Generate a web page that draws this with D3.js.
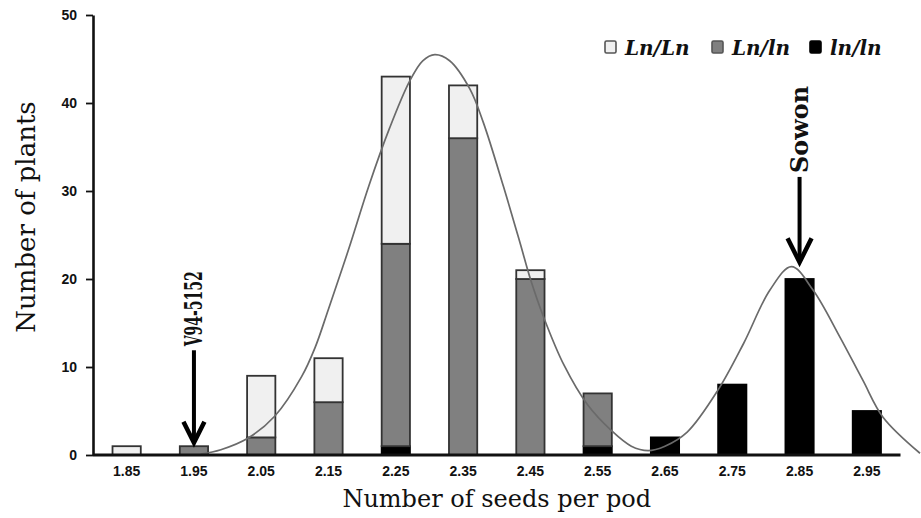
<!DOCTYPE html>
<html>
<head>
<meta charset="utf-8">
<script src="https://cdn.jsdelivr.net/npm/d3@7"></script>
<style>
  body { margin: 0; background: #fff; }
  svg { display: block; }
</style>
</head>
<body>
<div id="chart"></div>
<script>
// categories (seeds per pod)
const categories = ["1.85", "1.95", "2.05", "2.15", "2.25", "2.35", "2.45", "2.55", "2.65", "2.75", "2.85", "2.95"];

// genotype counts per class
const lnln = [0, 0, 0, 0, 1, 0, 0, 1, 2, 8, 20, 5];      // ln/ln (black)
const Lnln = [0, 1, 2, 6, 23, 36, 20, 6, 0, 0, 0, 0];    // Ln/ln (gray)
const LnLn = [1, 0, 7, 5, 19, 6, 1, 0, 0, 0, 0, 0];      // Ln/Ln (white)

// fitted curve
const curveX = [1.96, 1.99, 2.03, 2.07, 2.11, 2.13, 2.15, 2.18, 2.21, 2.24, 2.27, 2.29, 2.308,
  2.33, 2.36, 2.38, 2.41, 2.435, 2.45, 2.47, 2.50, 2.535, 2.57, 2.60, 2.625, 2.65, 2.683,
  2.729, 2.767, 2.806, 2.838, 2.870, 2.910, 2.944, 2.974, 3.029];
const curveY = [0.1, 0.6, 1.9, 4.4, 8.9, 12.2, 16.6, 23.4, 30.6, 37.0, 42.4, 44.8, 45.5,
  44.8, 41.6, 37.8, 30.5, 24.0, 20.0, 15.6, 10.2, 5.7, 2.8, 1.0, 0.5, 1.0, 2.6,
  7.4, 12.7, 18.75, 21.4, 18.75, 13.4, 8.5, 4.3, 0.2];

const yTicks = [0, 10, 20, 30, 40, 50];

const w = 921;
const h = 518;
const mLeft = 93, mRight = 900.5, mTop = 15, mBottom = 455;

const svg = d3.select("#chart")
  .append("svg")
  .attr("width", w)
  .attr("height", h);

svg.append("rect").attr("width", w).attr("height", h).attr("fill", "#fff");

// scales
const x = d3.scaleBand()
  .domain(categories)
  .range([mLeft, mRight])
  .paddingInner(0.58)
  .paddingOuter(0.29);

const y = d3.scaleLinear()
  .domain([0, 50])
  .range([mBottom, mTop]);

// continuous x for the curve, lined up with band centres
const xc = d3.scaleLinear()
  .domain([+categories[0], +categories[categories.length - 1]])
  .range([x(categories[0]) + x.bandwidth() / 2, x(categories[categories.length - 1]) + x.bandwidth() / 2]);

// stack the genotypes
const table = categories.map((c, i) => ({ cat: c, lnln: lnln[i], Lnln: Lnln[i], LnLn: LnLn[i] }));
const keys = ["lnln", "Lnln", "LnLn"];
const fills = { lnln: "#000", Lnln: "#808080", LnLn: "#f0f0f0" };
const stacked = d3.stack().keys(keys)(table);

svg.append("g")
  .selectAll("g")
  .data(stacked)
  .enter()
  .append("g")
  .attr("fill", (d) => fills[d.key])
  .attr("stroke", (d) => d.key === "lnln" ? "#000" : "#333")
  .attr("stroke-width", 1.8)
  .selectAll("rect")
  .data((d) => d.filter((s) => s[1] - s[0] > 0))
  .enter()
  .append("rect")
  .attr("x", (d) => x(d.data.cat))
  .attr("width", x.bandwidth())
  .attr("y", (d) => y(d[1]))
  .attr("height", (d) => y(d[0]) - y(d[1]));

// fitted curve
const curvePts = curveX.map((v, i) => [v, curveY[i]]);
svg.append("path")
  .datum(curvePts)
  .attr("fill", "none")
  .attr("stroke", "#6a6a6a")
  .attr("stroke-width", 1.7)
  .attr("d", d3.line()
    .x((d) => xc(d[0]))
    .y((d) => y(d[1]))
    .curve(d3.curveCatmullRom.alpha(0.5)));

const tickFont = "'Liberation Sans', Arial, sans-serif";

// x axis
const xAxis = d3.axisBottom(x).tickSize(0).tickPadding(11);
const gx = svg.append("g")
  .attr("transform", "translate(0," + mBottom + ")")
  .call(xAxis);
gx.select(".domain").remove();
gx.append("line")
  .attr("x1", mLeft).attr("x2", mRight)
  .attr("stroke", "#111").attr("stroke-width", 3);
gx.selectAll("text")
  .attr("fill", "#111")
  .style("font-family", tickFont)
  .style("font-weight", "bold")
  .style("font-size", "14px");

// y axis
const yAxis = d3.axisLeft(y).tickValues(yTicks).tickSize(7).tickSizeOuter(0).tickPadding(9);
const gy = svg.append("g")
  .attr("transform", "translate(" + mLeft + ",0)")
  .call(yAxis);
gy.select(".domain").attr("stroke", "#111").attr("stroke-width", 2.6);
gy.selectAll(".tick line").attr("stroke", "#111").attr("stroke-width", 1.8);
gy.selectAll("text")
  .attr("fill", "#111")
  .style("font-family", tickFont)
  .style("font-weight", "bold")
  .style("font-size", "14px");

// axis titles
svg.append("text")
  .attr("transform", "translate(35,217) rotate(-90)")
  .attr("text-anchor", "middle")
  .style("font-family", "'DejaVu Serif', serif")
  .style("font-size", "26px")
  .attr("fill", "#111")
  .text("Number of plants");

svg.append("text")
  .attr("x", (mLeft + mRight) / 2)
  .attr("y", 507)
  .attr("text-anchor", "middle")
  .style("font-family", "'DejaVu Serif', serif")
  .style("font-size", "24px")
  .attr("fill", "#111")
  .text("Number of seeds per pod");

// arrows for the parents
function arrow(cat, yFrom, yTo, label, textLen, fontSize, size) {
  const cx = x(cat) + x.bandwidth() / 2;
  const g = svg.append("g");
  g.append("line")
    .attr("x1", cx).attr("x2", cx)
    .attr("y1", y(yFrom)).attr("y2", y(yTo) - 2)
    .attr("stroke", "#000").attr("stroke-width", 4);
  g.append("path")
    .attr("d", "M" + (cx - size / 2) + "," + (y(yTo) - size) + "L" + cx + "," + y(yTo) + "L" + (cx + size / 2) + "," + (y(yTo) - size))
    .attr("fill", "none")
    .attr("stroke", "#000")
    .attr("stroke-width", 4.5)
    .attr("stroke-linejoin", "miter");
  g.append("text")
    .attr("transform", "translate(" + (cx + 8) + "," + (y(yFrom) - 4) + ") rotate(-90)")
    .attr("text-anchor", "start")
    .attr("textLength", textLen)
    .attr("lengthAdjust", "spacingAndGlyphs")
    .style("font-family", "'DejaVu Serif', serif")
    .style("font-weight", "bold")
    .style("font-size", fontSize + "px")
    .attr("fill", "#111")
    .text(label);
}
arrow("1.95", 11.9, 1.4, "V94-5152", 75, 24, 21);
arrow("2.85", 31.6, 21.9, "Sowon", 87, 25, 24);

// legend
const legendLabels = ["Ln/Ln", "Ln/ln", "ln/ln"];
const legendKeys = ["LnLn", "Lnln", "lnln"];
const legendX = [605, 712, 810];
const lg = svg.append("g");
legendKeys.forEach((k, i) => {
  lg.append("rect")
    .attr("x", legendX[i]).attr("y", 41)
    .attr("width", 11).attr("height", 12)
    .attr("rx", 1.5)
    .attr("fill", fills[k])
    .attr("stroke", k === "lnln" ? "#000" : "#555")
    .attr("stroke-width", 1.6);
  lg.append("text")
    .attr("x", legendX[i] + 20)
    .attr("y", 55)
    .style("font-family", "'DejaVu Serif', serif")
    .style("font-weight", "bold")
    .style("font-style", "italic")
    .style("font-size", "20px")
    .attr("fill", "#111")
    .text(legendLabels[i]);
});
</script>
</body>
</html>
